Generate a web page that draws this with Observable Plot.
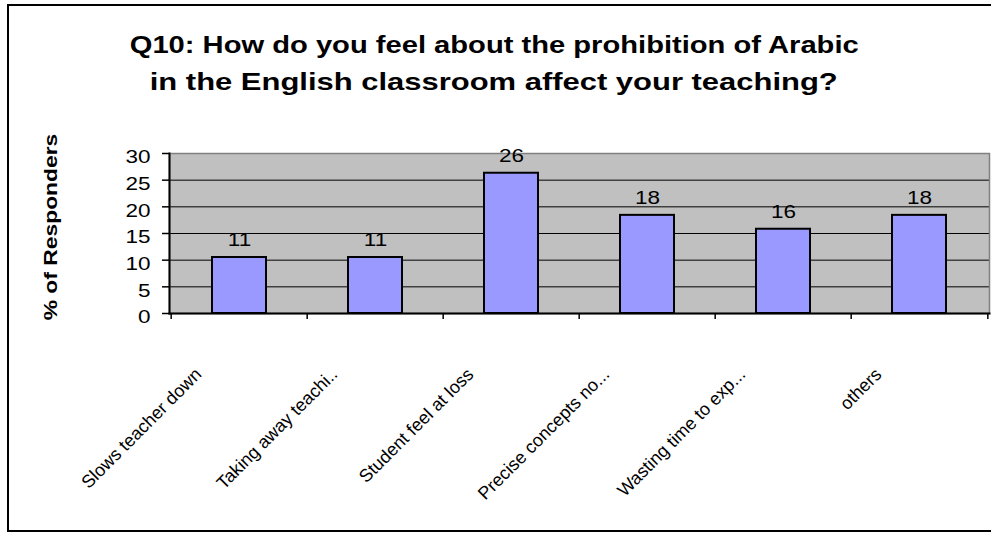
<!DOCTYPE html>
<html>
<head>
<meta charset="utf-8">
<script src="https://cdn.jsdelivr.net/npm/d3@7"></script>
<script src="https://cdn.jsdelivr.net/npm/@observablehq/plot@0.6"></script>
<style>
  html, body { margin: 0; padding: 0; background: #fff; overflow: hidden; }
  body { font-family: "Liberation Sans", Arial, sans-serif; width: 991px; height: 533px; position: relative; }
  #frame { position: absolute; left: 7px; top: 4px; width: 1010px; height: 528px; border: 2px solid #000; box-sizing: border-box; z-index: 2; pointer-events: none; }
  .title { position: absolute; left: 0; width: 988px; text-align: center; font-weight: bold; font-size: 24px; line-height: 37px; white-space: nowrap; color: #000; z-index: 3; }
  .title span { display: inline-block; }
  #chart { position: absolute; left: 0; top: 100px; z-index: 1; }
</style>
</head>
<body>
<div id="frame"></div>
<div class="title" id="title" style="top:26px"></div>
<div id="chart"></div>
<script>
// ---- data ----
const titleLines = [
  "Q10: How do you feel about the prohibition of Arabic",
  "in the English classroom affect your teaching?"
];
const yTitle = "% of Responders";
const categories = [
  "Slows teacher down",
  "Taking away teachi..",
  "Student feel at loss",
  "Precise concepts no...",
  "Wasting time to exp...",
  "others"
];
const values = [10.5, 10.5, 26.3, 18.4, 15.8, 18.4];
const yDomain = [0, 30];
const yTicks = [0, 5, 10, 15, 20, 25, 30];

// ---- title (lines widened to the reference's wide lettering) ----
const titleWidths = [729, 688];
const titleDiv = document.getElementById("title");
titleLines.forEach((l, i) => {
  const d = document.createElement("div");
  const s = document.createElement("span");
  s.textContent = l;
  d.appendChild(s);
  titleDiv.appendChild(d);
  const w = s.getBoundingClientRect().width;
  s.style.transform = `scaleX(${titleWidths[i] / w})`;
});

// ---- chart ----
const data = categories.map((c, i) => ({cat: c, value: values[i]}));
const W = 991, H = 433, mL = 169, mR = 2, mT = 53, mB = 220;
const step = (W - mL - mR) / categories.length;
const gridTicks = yTicks.filter(t => t > yDomain[0] && t < yDomain[1]);

const chart = Plot.plot({
  width: W, height: H,
  marginLeft: mL, marginRight: mR, marginTop: mT, marginBottom: mB,
  style: {fontFamily: "'Liberation Sans', Arial, sans-serif", fontSize: "18px", background: "none", color: "#000"},
  x: {domain: categories, paddingInner: 0.6, paddingOuter: 0.3, axis: null},
  y: {domain: yDomain, axis: null},
  marks: [
    Plot.frame({fill: "#C0C0C0"}),
    Plot.ruleY(gridTicks, {stroke: "#000", strokeWidth: 1}),
    Plot.frame({stroke: "#808080", strokeWidth: 1.5}),
    Plot.barY(data, {x: "cat", y: "value", fill: "#9999FF", stroke: "#000", strokeWidth: 2}),
    Plot.text(data, {x: "cat", y: "value", text: d => String(Math.round(d.value)), lineAnchor: "bottom", dy: -11.5, fontSize: 18, fill: "#000", className: "vlab"}),
    // y ticks
    Plot.axisY({ticks: yTicks, tickSize: 7, tickFormat: () => "", strokeWidth: 1.5, label: null}),
    // y tick labels
    Plot.axisY({ticks: yTicks, tickSize: 0, tickPadding: 19, dy: 4, fontSize: 18, label: null, className: "ylab"}),
    // axis lines
    Plot.frame({anchor: "left", stroke: "#000", strokeWidth: 2}),
    Plot.frame({anchor: "bottom", stroke: "#000", strokeWidth: 2}),
    // x ticks at category boundaries
    Plot.ruleX(categories, {x: d => d, y1: 0, y2: 0, insetBottom: -6, dx: -step / 2, stroke: "#000", strokeWidth: 1.5}),
    Plot.ruleX(categories.slice(-1), {x: d => d, y1: 0, y2: 0, insetBottom: -6, dx: step / 2, stroke: "#000", strokeWidth: 1.5}),
    // x labels
    Plot.text(categories, {x: d => d, text: d => d, frameAnchor: "bottom", rotate: -45, textAnchor: "end", lineAnchor: "top", dx: -46, dy: 53, fontSize: 18, fill: "#000", className: "xlab"}),
    // y title
    Plot.text([yTitle], {text: d => d, frameAnchor: "left", rotate: -90, textAnchor: "middle", lineAnchor: "bottom", dx: -113, dy: -6.5, fontSize: 18, fontWeight: "bold", fill: "#000", className: "ytitle"})
  ]
});
document.getElementById("chart").appendChild(chart);

// widen glyphs horizontally (in each text's own frame) to match the reference's wide rendering
const textGroups = Array.from(chart.querySelectorAll('g[aria-label="text"]'));
const pick = (cls, idx) => {
  const g = chart.querySelector("g." + cls);
  return g || textGroups[idx] || null;
};
const widen = (g, k) => {
  if (!g) return;
  g.querySelectorAll("text").forEach(t => {
    const tr = t.getAttribute("transform") || "";
    t.setAttribute("transform", tr + ` scale(${k},1)`);
  });
};
widen(pick("vlab", 0), 1.25);
widen(pick("ytitle", 2), 1.27);
const ylabG = chart.querySelector("g.ylab") ||
  Array.from(chart.querySelectorAll('g[aria-label="y-axis tick label"]')).pop();
widen(ylabG, 1.25);
</script>
</body>
</html>
